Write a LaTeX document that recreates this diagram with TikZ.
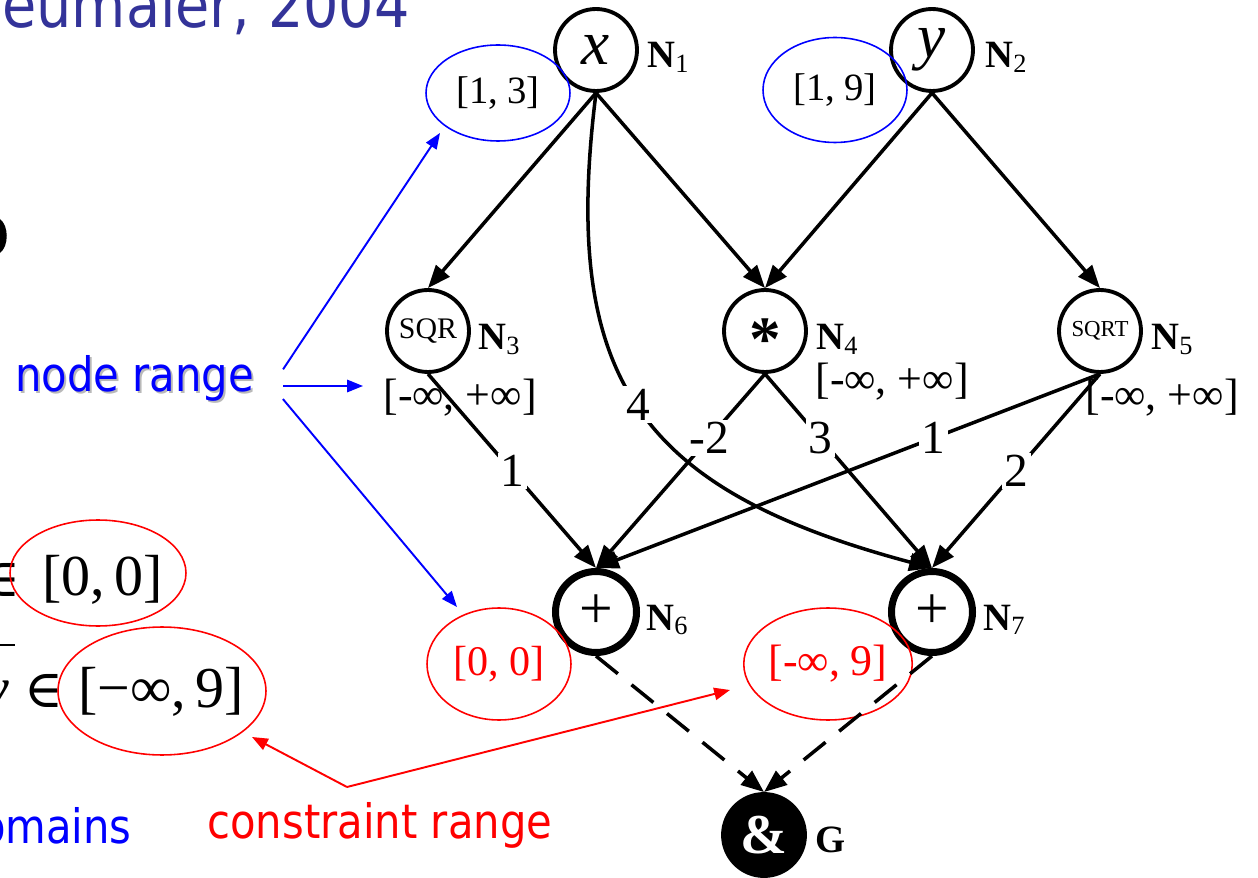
\documentclass[tikz,border=0pt]{standalone}
\usepackage{fontspec}
\setmainfont{Liberation Serif}
\newfontfamily\slidefont[FakeStretch=0.88]{DejaVu Sans}
\newfontfamily\symfont{DejaVu Serif}
\usetikzlibrary{arrows.meta,shapes.geometric}
\definecolor{titleblue}{RGB}{51,51,153}
\newcommand{\fsz}[1]{\fontsize{#1}{#1}\selectfont}
\newcommand{\nlab}[1]{\textbf{N}\raisebox{-2.5pt}{\fsz{15}#1}}
\begin{document}
\begin{tikzpicture}[x=0.02cm,y=-0.02cm,
  opnode/.style={circle,draw,line width=2.2pt,minimum size=1.64cm,inner sep=0pt,font=\fsz{36}},
  sumnode/.style={opnode,line width=4pt,minimum size=1.62cm,font=\fsz{34}},
  ntag/.style={anchor=base west,inner sep=0pt,font=\fsz{22}},
  ival/.style={inner sep=0pt,font=\fsz{25}},
  bnd/.style={ellipse,line width=0.9pt,inner sep=0pt,font=\fsz{22}},
  lnk/.style={line width=2pt,-{Triangle[length=13pt,width=10pt]}},
  wgt/.style={fill=white,inner sep=1.5pt,font=\fsz{27}},
  ptr/.style={line width=1.1pt,-{Triangle[length=9pt,width=7pt]}},
  slidetext/.style={inner sep=0pt,font=\slidefont\fsz{27}}]
\useasboundingbox (0,0) rectangle (1258,878);

% slide text cut off at the edges
\node[slidetext,font=\slidefont\fsz{36},text=titleblue,anchor=base west] (title) at (2,28) {eumaier, 2004};
\fill (0,219) .. controls (9,226) and (9,246) .. (0,253) -- cycle;
\node[slidetext,text=gray!55,anchor=base west] (nrshadow) at (17,394) {node range};
\node[slidetext,text=blue,anchor=base west] (nr) at (15,392) {node range};
\node[slidetext,text=blue,anchor=base east] (dm) at (132,843) {omains};
\node[slidetext,text=red,anchor=base west] (cr) at (207,838) {constraint range};

% constraints on the left
\node[inner sep=0pt,font=\symfont\fsz{30},anchor=base east] (in1) at (21,596) {∈};
\node[inner sep=0pt,font=\fsz{33},anchor=base west] (v1) at (42,595) {[0,\,0]};
\node[draw=red,bnd,minimum width=3.52cm,minimum height=2.12cm] (e1) at (98,573) {};
\draw[line width=1.2pt] (-30,645) -- (15,645);
\node[inner sep=0pt,font=\fsz{33},anchor=base east] (yy) at (10,707) {\textit{y}};
\node[inner sep=0pt,font=\symfont\fsz{30},anchor=base west] (in2) at (24,707) {∈};
\node[inner sep=0pt,font=\fsz{33},anchor=base west] (v2) at (78,707) {[−∞,\,9]};
\node[draw=red,bnd,minimum width=4.16cm,minimum height=2.56cm] (e2) at (162,691) {};

% graph nodes
\node[opnode] (N1) at (596,50) {\textit{x}};
\node[opnode] (N2) at (932,50) {\textit{y}};
\node[opnode,font=\fsz{17}] (N3) at (428,331) {SQR};
\node[opnode,font=\fsz{36}\bfseries] (N4) at (765,331) {\raisebox{-17pt}[0pt][0pt]{*}};
\node[opnode,font=\fsz{13}] (N5) at (1100,331) {SQRT};
\node[sumnode] (N6) at (596,612) {+};
\node[sumnode] (N7) at (932,612) {+};
\node[opnode,fill=black,text=white,font=\fsz{32}\bfseries] (G) at (764,835) {\&};

\node[ntag] (t1) at (647,68) {\nlab{1}};
\node[ntag] (t2) at (985,68) {\nlab{2}};
\node[ntag] (t3) at (478,350) {\nlab{3}};
\node[ntag] (t4) at (816,350) {\nlab{4}};
\node[ntag] (t5) at (1151,350) {\nlab{5}};
\node[ntag] (t6) at (646,630) {\nlab{6}};
\node[ntag] (t7) at (983,630) {\nlab{7}};
\node[ntag] (tG) at (815,852) {\textbf{G}};

% ranges
\node[draw=blue,bnd,minimum width=2.88cm,minimum height=1.92cm] (b1) at (498,93) {[1, 3]};
\node[draw=blue,bnd,minimum width=2.88cm,minimum height=2.1cm] (b2) at (835,90) {[1, 9]};
\node[draw=red,text=red,bnd,minimum width=2.88cm,minimum height=2.24cm,font=\fsz{24}] (c6) at (499,664) {[0, 0]};
\node[draw=red,text=red,bnd,minimum width=3.2cm,minimum height=2.24cm,font=\fsz{25}] (c7) at (828,664) {[-∞, 9]};

% edges
\draw[lnk] (N1.south) -- (N3.north);
\draw[lnk] (N1.south) -- (N4.north);
\draw[lnk] (N2.south) -- (N4.north);
\draw[lnk] (N2.south) -- (N5.north);
\draw[lnk] (N1.south) .. controls (560,380) and (640,490) .. node[wgt,pos=0.49] (w4) {4} (N7.north);
\draw[lnk] (N3.south) -- node[wgt] (w1) {1} (N6.north);
\draw[lnk] (N4.south) -- node[wgt,pos=0.33] (w2) {-2} (N6.north);
\draw[lnk] (N4.south) -- node[wgt,pos=0.33] (w3) {3} (N7.north);
\draw[lnk] (N5.south) -- node[wgt,pos=0.33] (w5) {1} (N6.north);
\draw[lnk] (N5.south) -- node[wgt] (w6) {2} (N7.north);
\draw[lnk,dash pattern=on 16pt off 10pt] (N6.south) -- (G.north);
\draw[lnk,dash pattern=on 16pt off 10pt] (N7.south) -- (G.north);

\node[ival] (d3) at (460,398) {[-∞, +∞]};
\node[ival] (d4) at (892,382) {[-∞, +∞]};
\node[ival] (d5) at (1162,398) {[-∞, +∞]};

% pointers
\coordinate (fan) at (272,386);
\coordinate (tipA) at (440,133);
\coordinate (tipB) at (363,386);
\coordinate (tipC) at (457,607);
\draw[ptr,blue,shorten <=0.4cm] (fan) -- (tipA);
\draw[ptr,blue,shorten <=0.22cm] (fan) -- (tipB);
\draw[ptr,blue,shorten <=0.34cm] (fan) -- (tipC);
\coordinate (knee) at (347,787);
\coordinate (tipL) at (252,737);
\coordinate (tipR) at (730,690);
\draw[ptr,red] (knee) -- (tipL);
\draw[ptr,red] (knee) -- (tipR);
\end{tikzpicture}
\end{document}
